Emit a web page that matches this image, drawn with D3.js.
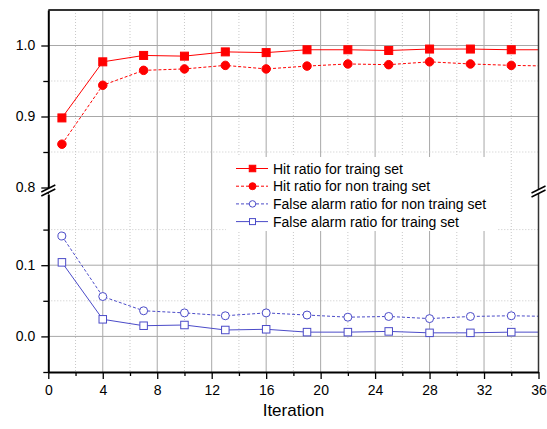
<!DOCTYPE html>
<html>
<head>
<meta charset="utf-8">
<script src="https://cdn.jsdelivr.net/npm/d3@7"></script>
<style>
body{margin:0;background:#fff;}
text{font-family:"Liberation Sans",Arial,sans-serif;}
</style>
</head>
<body>
<div id="chart-area"></div>
<script>
var iterations=[1,4,7,10,13,16,19,22,25,28,31,34,37];
var hitTrain=[0.898,0.977,0.986,0.985,0.991,0.990,0.994,0.994,0.993,0.995,0.995,0.994,0.994];
var hitNon=[0.861,0.944,0.965,0.967,0.972,0.967,0.971,0.974,0.973,0.977,0.974,0.972,0.971];
var faNon=[0.141,0.056,0.036,0.033,0.029,0.033,0.030,0.027,0.028,0.025,0.028,0.029,0.028];
var faTrain=[0.104,0.024,0.015,0.016,0.009,0.010,0.006,0.006,0.007,0.005,0.005,0.006,0.006];

var xTicks=[0,4,8,12,16,20,24,28,32,36];
var xMinor=[2,6,10,14,18,22,26,30,34];
var upperTicks=[0.8,0.9,1.0];
var upperMinor=[0.85,0.95];
var lowerTicks=[0.0,0.1];
var lowerMinor=[-0.05,0.05,0.15];

var legendNames=["Hit ratio for traing set","Hit ratio for non traing set",
    "False alarm ratio for non traing set","False alarm ratio for traing set"];

var red="#ff0000", blue="#4b4bc8";
var pLeft=48.3, pRight=538.5, pTop=10, pBottom=372;

var svg=d3.select('#chart-area').append('svg')
    .attr('width',547)
    .attr('height',429);

var x=d3.scaleLinear().domain([0,36]).range([pLeft,pRight]);
var yUp=d3.scaleLinear().domain([0.8,1.05]).range([187.5,pTop]);
var yLow=d3.scaleLinear().domain([-0.05,0.2]).range([pBottom,194]);

svg.append("defs").append("clipPath").attr("id","plot")
    .append("rect").attr("x",pLeft).attr("y",pTop)
    .attr("width",pRight-pLeft).attr("height",pBottom-pTop);

// grid
var grid=svg.append("g");
grid.selectAll(".vmaj").data(xTicks.slice(1,-1)).enter().append("line")
    .attr("x1",d=>x(d)).attr("x2",d=>x(d)).attr("y1",pTop).attr("y2",pBottom)
    .attr("stroke","#a8a8a8").attr("stroke-width",1);
grid.selectAll(".vmin").data(xMinor).enter().append("line")
    .attr("x1",d=>x(d)).attr("x2",d=>x(d)).attr("y1",pTop).attr("y2",pBottom)
    .attr("stroke","#c8c8c8").attr("stroke-dasharray","1,2");

function hgrid(scale,major,minor){
    grid.selectAll(null).data(major).enter().append("line")
        .attr("x1",pLeft).attr("x2",pRight).attr("y1",d=>scale(d)).attr("y2",d=>scale(d))
        .attr("stroke","#a8a8a8");
    grid.selectAll(null).data(minor).enter().append("line")
        .attr("x1",pLeft).attr("x2",pRight).attr("y1",d=>scale(d)).attr("y2",d=>scale(d))
        .attr("stroke","#c8c8c8").attr("stroke-dasharray","1,2");
}
hgrid(yUp,[0.9,1.0],upperMinor);
hgrid(yLow,[0.0,0.1],[0.05,0.15]);

// series
var series=[
    {vals:hitTrain,y:yUp,color:red,dash:null,shape:"square",fill:red,size:8},
    {vals:hitNon,y:yUp,color:red,dash:"3,2",shape:"circle",fill:red,size:8.5},
    {vals:faNon,y:yLow,color:blue,dash:"3,2",shape:"circle",fill:"#fff",size:8},
    {vals:faTrain,y:yLow,color:blue,dash:null,shape:"square",fill:"#fff",size:7.5}
];

var plot=svg.append("g").attr("clip-path","url(#plot)");

series.forEach(function(s){
    var pts=iterations.map(function(it,i){return [it,s.vals[i]];});
    plot.append("path")
        .attr("d",d3.line().x(d=>x(d[0])).y(d=>s.y(d[1]))(pts))
        .attr("fill","none")
        .attr("stroke",s.color)
        .attr("stroke-width",1)
        .attr("stroke-dasharray",s.dash);
});

function marker(g,s,cx,cy,size){
    if(s.shape=="square"){
        g.append("rect").attr("x",cx-size/2).attr("y",cy-size/2)
            .attr("width",size).attr("height",size)
            .attr("fill",s.fill).attr("stroke",s.color).attr("stroke-width",1);
    } else {
        g.append("circle").attr("cx",cx).attr("cy",cy).attr("r",size/2)
            .attr("fill",s.fill).attr("stroke",s.color).attr("stroke-width",1);
    }
}
series.forEach(function(s){
    iterations.forEach(function(it,i){
        marker(plot,s,x(it),s.y(s.vals[i]),s.size);
    });
});

// legend
var lg=svg.append("g");
lg.append("rect").attr("x",226).attr("y",157).attr("width",272).attr("height",74).attr("fill","#fff");
legendNames.forEach(function(name,i){
    var s=series[i], ly=168.5+i*17.7;
    lg.append("line").attr("x1",236).attr("x2",268).attr("y1",ly).attr("y2",ly)
        .attr("stroke",s.color).attr("stroke-dasharray",s.dash);
    marker(lg,s,252.5,ly,s.size-1.5);
    lg.append("text").attr("x",273).attr("y",ly+5).attr("font-size","14px")
        .attr("fill","#000").text(name);
});

// frame
svg.append("line").attr("x1",pLeft).attr("x2",pRight+1).attr("y1",pTop).attr("y2",pTop)
    .attr("stroke","#333").attr("stroke-width",1.8);
svg.append("line").attr("x1",pRight).attr("x2",pRight).attr("y1",pTop).attr("y2",pBottom)
    .attr("stroke","#333").attr("stroke-width",1.5);

// axes
var xAxisCall=d3.axisBottom(x).tickValues(xTicks).tickSize(7).tickSizeOuter(0).tickFormat(d3.format("d"));
var xg=svg.append("g").attr("transform","translate(0,"+pBottom+")").call(xAxisCall);
xg.selectAll("text").attr("font-size","14px").attr("dy","0.95em").attr("font-family","Liberation Sans, Arial");
svg.append("g").attr("transform","translate(0,"+pBottom+")")
    .call(d3.axisBottom(x).tickValues(xMinor).tickSize(4).tickFormat(""))
    .select(".domain").remove();

function yAxis(scale,major,minor){
    var g=svg.append("g").attr("transform","translate("+pLeft+",0)")
        .call(d3.axisLeft(scale).tickValues(major).tickSize(7).tickPadding(6).tickSizeOuter(0).tickFormat(d3.format(".1f")));
    g.selectAll("text").attr("font-size","14px").attr("font-family","Liberation Sans, Arial");
    svg.append("g").attr("transform","translate("+pLeft+",0)")
        .call(d3.axisLeft(scale).tickValues(minor).tickSize(5).tickFormat(""))
        .select(".domain").remove();
}
yAxis(yUp,upperTicks,upperMinor);
yAxis(yLow,lowerTicks,lowerMinor);
// join the two left axis parts through the gap
svg.append("line").attr("x1",pLeft).attr("x2",pLeft).attr("y1",yUp(0.8)).attr("y2",yLow(0.2)).attr("stroke","#000");
svg.selectAll(".domain").attr("stroke-width",2);
svg.selectAll(".tick line").attr("stroke-width",1.3);

// break marks
function breakMark(cx,cy){
    svg.append("polygon")
        .attr("points",[[cx-7,cy+3],[cx+7,cy-4],[cx+7,cy],[cx-7,cy+7]].join(" "))
        .attr("fill","#fff");
    svg.append("line").attr("x1",cx-7).attr("y1",cy+3).attr("x2",cx+7).attr("y2",cy-4).attr("stroke","#000").attr("stroke-width",1.5);
    svg.append("line").attr("x1",cx-7).attr("y1",cy+7).attr("x2",cx+7).attr("y2",cy).attr("stroke","#000").attr("stroke-width",1.5);
}
breakMark(pLeft,189);
breakMark(pRight,190);

svg.append("text")
    .attr("x",(pLeft+pRight)/2)
    .attr("y",416)
    .attr("font-size","17px")
    .attr("text-anchor","middle")
    .text("Iteration");
</script>
</body>
</html>
